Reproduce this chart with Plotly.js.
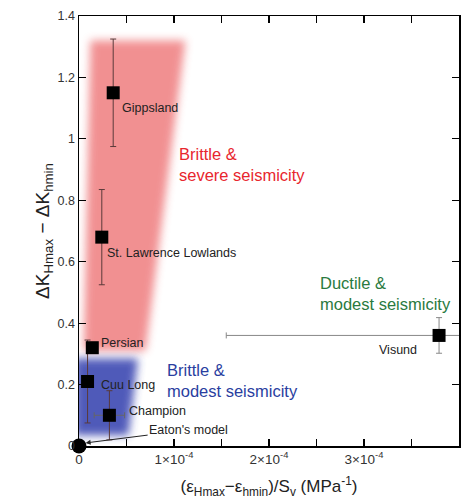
<!DOCTYPE html>
<html>
<head>
<meta charset="utf-8">
<script src="https://cdn.plot.ly/plotly-3.0.1.min.js"></script>
<style>html,body{margin:0;padding:0;background:#fff;}#chart{width:474px;height:499px;}</style>
</head>
<body>
<div id="chart"></div>
<script>
// Data
const sites = ["Gippsland", "St. Lawrence Lowlands", "Persian", "Cuu Long", "Champion", "Visund"];
const strainX = [0.36e-4, 0.24e-4, 0.14e-4, 0.09e-4, 0.32e-4, 3.79e-4];
const dK = [1.15, 0.68, 0.32, 0.21, 0.10, 0.36];
const dKerr = [0.175, 0.155, 0, 0.135, 0.08, 0.058];
const strainXerr = [0, 0, 0, 0, 0.16e-4, 2.24e-4];
const eatonX = [0];
const eatonY = [0];
const xTickVals = [0, 0.5e-4, 1e-4, 1.5e-4, 2e-4, 2.5e-4, 3e-4, 3.5e-4, 4e-4];
const xTickText = ["0", "", "1×10<sup>-4</sup>", "", "2×10<sup>-4</sup>", "", "3×10<sup>-4</sup>", "", "4×10<sup>-4</sup>"];
const yTickVals = [0, 0.2, 0.4, 0.6, 0.8, 1, 1.2, 1.4];
const yTickText = ["0", "0.2", "0.4", "0.6", "0.8", "1", "1.2", "1.4"];
// Regions (x, y corners)
const severeX = [0.12e-4, 1.12e-4, 0.70e-4, 0.05e-4];
const severeY = [1.32, 1.32, 0.31, 0.31];
const modestX = [-0.05e-4, 0.62e-4, 0.52e-4, -0.05e-4];
const modestY = [0.285, 0.285, 0.035, 0.035];

const labelShift = {
  "Gippsland": [7, -15, "left"],
  "St. Lawrence Lowlands": [3, -16, "left"],
  "Persian": [7, 5, "left"],
  "Cuu Long": [11, -3, "left"],
  "Champion": [18, 4, "left"],
  "Visund": [-20, -15, "right"]
};

function pathFrom(xs, ys) {
  let p = "";
  for (let i = 0; i < xs.length; i++) p += (i ? " L " : "M ") + xs[i] + " " + ys[i];
  return p + " Z";
}

const FONT = "Liberation Sans, Arial, sans-serif";

const traces = [];
const mainIdx = [0,1,2,3,4];
traces.push({
  type: "scatter", mode: "markers",
  x: mainIdx.map(i => strainX[i]), y: mainIdx.map(i => dK[i]),
  marker: {symbol: "square", size: 13, color: "#000"},
  error_y: {type: "data", array: mainIdx.map(i => dKerr[i]), visible: true, color: "#5a3a3a", thickness: 1, width: 3},
  error_x: {type: "data", array: mainIdx.map(i => strainXerr[i]), visible: true, color: "#666", thickness: 1, width: 3},
  hoverinfo: "skip", showlegend: false
});
traces.push({
  type: "scatter", mode: "markers",
  x: [strainX[5]], y: [dK[5]],
  marker: {symbol: "square", size: 13, color: "#000"},
  error_y: {type: "data", array: [dKerr[5]], visible: true, color: "#888", thickness: 1, width: 3},
  error_x: {type: "data", array: [strainXerr[5]], visible: true, color: "#888", thickness: 1, width: 3},
  hoverinfo: "skip", showlegend: false
});
traces.push({
  type: "scatter", mode: "markers", x: eatonX, y: eatonY,
  marker: {symbol: "circle", size: 15, color: "#000"},
  cliponaxis: false, hoverinfo: "skip", showlegend: false
});

const annotations = sites.map((s, i) => ({
  x: strainX[i], y: dK[i], xref: "x", yref: "y", text: s, showarrow: false,
  xanchor: labelShift[s][2], yanchor: "middle",
  xshift: labelShift[s][0], yshift: labelShift[s][1],
  font: {family: FONT, size: 12.5, color: "#222"}
}));
annotations.push({
  x: 0.07e-4, y: 0.01, xref: "x", yref: "y", text: "Eaton's model",
  showarrow: true, arrowhead: 2, arrowsize: 1, arrowwidth: 1, arrowcolor: "#222",
  ax: 103, ay: -13, standoff: 0,
  font: {family: FONT, size: 12.5, color: "#222"}
});
annotations.push({
  x: 1.03e-4, y: 0.916, xref: "x", yref: "y", xanchor: "left", yanchor: "middle",
  text: "Brittle &<br>severe seismicity", align: "left", showarrow: false,
  font: {family: FONT, size: 16.5, color: "#e8262e"}
});
annotations.push({
  x: 0.90e-4, y: 0.213, xref: "x", yref: "y", xanchor: "left", yanchor: "middle",
  text: "Brittle &<br>modest seismicity", align: "left", showarrow: false,
  font: {family: FONT, size: 16.5, color: "#2a3ea0"}
});
annotations.push({
  x: 2.52e-4, y: 0.496, xref: "x", yref: "y", xanchor: "left", yanchor: "middle",
  text: "Ductile &<br>modest seismicity", align: "left", showarrow: false,
  font: {family: FONT, size: 16.5, color: "#2a7a40"}
});

const layout = {
  width: 474, height: 499,
  margin: {l: 79, r: 15, t: 16, b: 53},
  paper_bgcolor: "#fff", plot_bgcolor: "#fff",
  font: {family: FONT, color: "#333"},
  xaxis: {
    range: [0, 4e-4], tickvals: xTickVals, ticktext: xTickText,
    ticks: "inside", ticklen: 7, tickwidth: 1.2, tickcolor: "#000",
    showline: true, linecolor: "#000", linewidth: 1.5, mirror: "ticks",
    showgrid: false, zeroline: false,
    tickfont: {family: FONT, size: 13.5, color: "#333"},
    title: {text: "(ε<sub>Hmax</sub>−ε<sub>hmin</sub>)/S<sub>v</sub> (MPa<sup>-1</sup>)", standoff: 15,
            font: {family: FONT, size: 17, color: "#222"}}
  },
  yaxis: {
    range: [0, 1.4], tickvals: yTickVals, ticktext: yTickText,
    ticks: "inside", ticklen: 7, tickwidth: 1.2, tickcolor: "#000",
    showline: true, linecolor: "#000", linewidth: 1.5, mirror: "ticks",
    showgrid: false, zeroline: false,
    tickfont: {family: FONT, size: 12.5, color: "#333"},
    title: {text: "ΔK<sub>Hmax</sub> − ΔK<sub>hmin</sub>", standoff: 3,
            font: {family: FONT, size: 19, color: "#222"}}
  },
  shapes: [
    {type: "path", xref: "x", yref: "y", path: pathFrom(severeX, severeY),
     fillcolor: "rgb(240,132,134)", line: {width: 0}, layer: "below", opacity: 0.9},
    {type: "path", xref: "x", yref: "y", path: pathFrom(modestX, modestY),
     fillcolor: "rgb(62,74,178)", line: {width: 0}, layer: "below", opacity: 0.9}
  ],
  annotations: annotations,
  showlegend: false
};

Plotly.newPlot("chart", traces, layout, {staticPlot: true}).then(function(gd) {
  const svg = gd.querySelector("svg.main-svg");
  const ns = "http://www.w3.org/2000/svg";
  let defs = svg.querySelector("defs");
  if (!defs) { defs = document.createElementNS(ns, "defs"); svg.insertBefore(defs, svg.firstChild); }
  const f = document.createElementNS(ns, "filter");
  f.setAttribute("id", "softblur");
  f.setAttribute("x", "-30%"); f.setAttribute("y", "-30%");
  f.setAttribute("width", "160%"); f.setAttribute("height", "160%");
  const b = document.createElementNS(ns, "feGaussianBlur");
  b.setAttribute("stdDeviation", "4.5");
  f.appendChild(b); defs.appendChild(f);
  gd.querySelectorAll(".shapelayer path").forEach(p => {
    p.setAttribute("filter", "url(#softblur)");
    p.style.filter = "url(#softblur)";
  });
});
</script>
</body>
</html>
